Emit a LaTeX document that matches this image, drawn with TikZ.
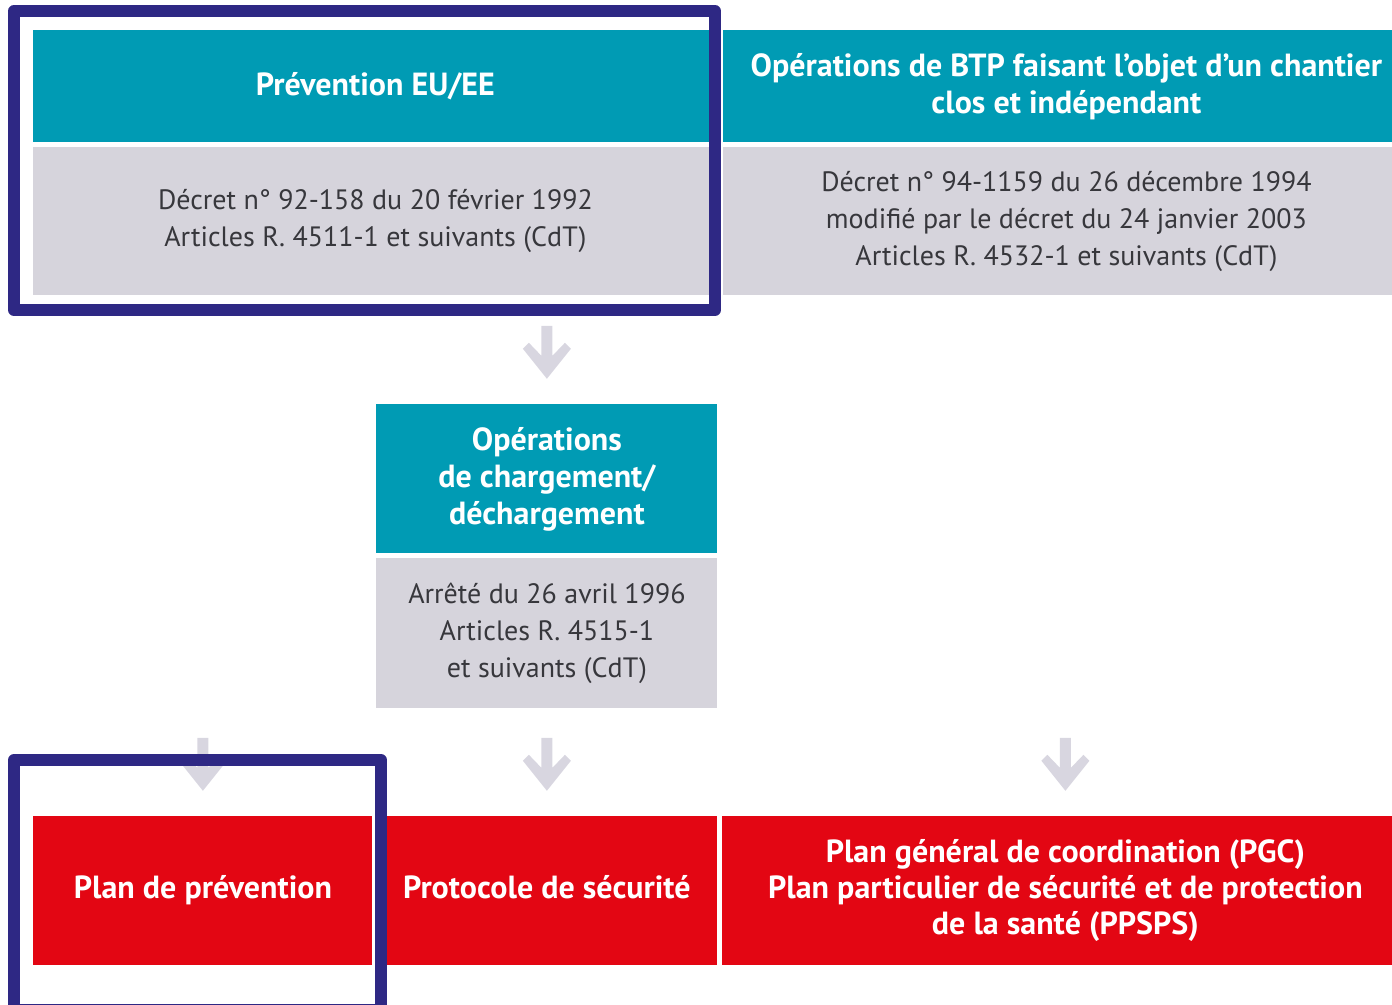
\documentclass[tikz,border=0pt]{standalone}
\usepackage{fontspec}
\setmainfont{PT Sans}
\usetikzlibrary{positioning}

\definecolor{tealbox}{RGB}{0,155,180}
\definecolor{greybox}{RGB}{214,212,220}
\definecolor{redbox}{RGB}{227,6,19}
\definecolor{framecol}{RGB}{46,40,132}
\definecolor{arrowcol}{RGB}{216,214,224}
\definecolor{txtgrey}{RGB}{55,55,60}

\tikzset{
  box/.style={anchor=north west, inner sep=0pt, align=center},
  head/.style={box, fill=tealbox, text=white, font=\bfseries\fontsize{16}{18.5}\selectfont},
  body/.style={box, fill=greybox, text=txtgrey, font=\fontsize{14}{18.5}\selectfont},
  plan/.style={box, fill=redbox, text=white, font=\bfseries\fontsize{16}{18}\selectfont},
  frame/.style={draw=framecol, line width=6pt, line join=round},
  pics/downarrow/.style={code={
    \fill[arrowcol] (-5.5,0) -- (5.5,0) -- (5.5,30) -- (18,17) -- (24,23) -- (0,53)
      -- (-24,23) -- (-18,17) -- (-5.5,30) -- cycle;
  }}
}

\begin{document}
\begin{tikzpicture}[x=0.5pt, y=-0.5pt]
\useasboundingbox (0,0) rectangle (1392,1005);
\clip (0,0) rectangle (1392,1005);

% top row
\node[head, minimum width=342pt, minimum height=56pt] (head1) at (33,30) {Prévention EU/EE};
\node[body, minimum width=342pt, minimum height=74pt] (body1) at (33,147) {Décret n° 92-158 du 20 février 1992\\Articles R. 4511-1 et suivants (CdT)};
\node[head, minimum width=343pt, minimum height=56pt] (head2) at (723,30) {Opérations de BTP faisant l’objet d’un chantier\\clos et indépendant};
\node[body, minimum width=343pt, minimum height=74pt] (body2) at (723,147) {Décret n° 94-1159 du 26 décembre 1994\\modifié par le décret du 24 janvier 2003\\Articles R. 4532-1 et suivants (CdT)};

% middle
\node[head, minimum width=170.5pt, minimum height=74.5pt] (head3) at (376,404) {Opérations\\de chargement/\\déchargement};
\node[body, minimum width=170.5pt, minimum height=75pt] (body3) at (376,558) {Arrêté du 26 avril 1996\\Articles R. 4515-1\\et suivants (CdT)};

% plans
\node[plan, minimum width=169.5pt, minimum height=74.5pt] (red1) at (33,816) {Plan de prévention\strut};
\node[plan, minimum width=170.5pt, minimum height=74.5pt] (red2) at (376,816) {Protocole de sécurité\strut};
\node[plan, minimum width=343pt, minimum height=74.5pt] (red3) at (722,816) {Plan général de coordination (PGC)\\Plan particulier de sécurité et de protection\\de la santé (PPSPS)};

\pic at ([yshift=-15pt]body1.south -| head3.north) {downarrow};
\pic at ([yshift=-14.5pt]body3.south -| red1.north) {downarrow};
\pic at ([yshift=-14.5pt]body3.south -| red2.north) {downarrow};
\pic at ([yshift=-14.5pt]body3.south -| red3.north) {downarrow};

\draw[frame] (14,11) rectangle (715,310);
\draw[frame] (14,760) rectangle (381,1010);

\end{tikzpicture}
\end{document}
